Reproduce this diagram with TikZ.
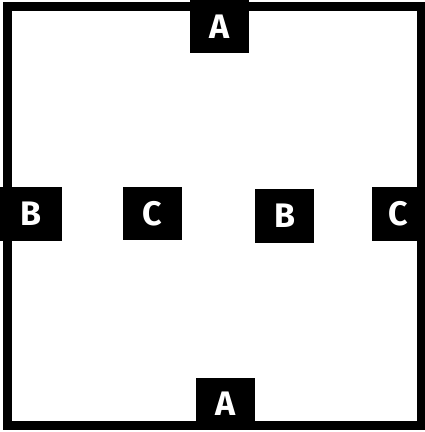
\documentclass[tikz,border=0pt]{standalone}
\usepackage{fontspec}
\setsansfont{Fira Sans}
\usepackage{tikz}
\tikzset{
  lbl/.style={fill=black,text=white,inner sep=0pt,font=\sffamily\bfseries\fontsize{34}{34}\selectfont},
  frame/.style={draw=black,line width=9pt},
}

\begin{document}
\begin{tikzpicture}[x=1pt,y=1pt]
\useasboundingbox (0,0) rectangle (425,432);
\draw[frame] (7,6.5) rectangle (421.5,425);
\node[lbl,minimum width=59pt,minimum height=53pt] (aTop) at (219.5,405.5){A};
\node[lbl,minimum width=59pt,minimum height=52pt] (aBot) at (225.5,28){A};
\node[lbl,minimum width=62pt,minimum height=54pt] (bLeft) at (31,218){B};
\node[lbl,minimum width=59pt,minimum height=53pt] (cMid) at (152.5,218.5){C};
\node[lbl,minimum width=59pt,minimum height=54pt] (bMid) at (284.5,216){B};
\node[lbl,minimum width=53pt,minimum height=54pt] (cRight) at (398.5,218){C};
\end{tikzpicture}
\end{document}
